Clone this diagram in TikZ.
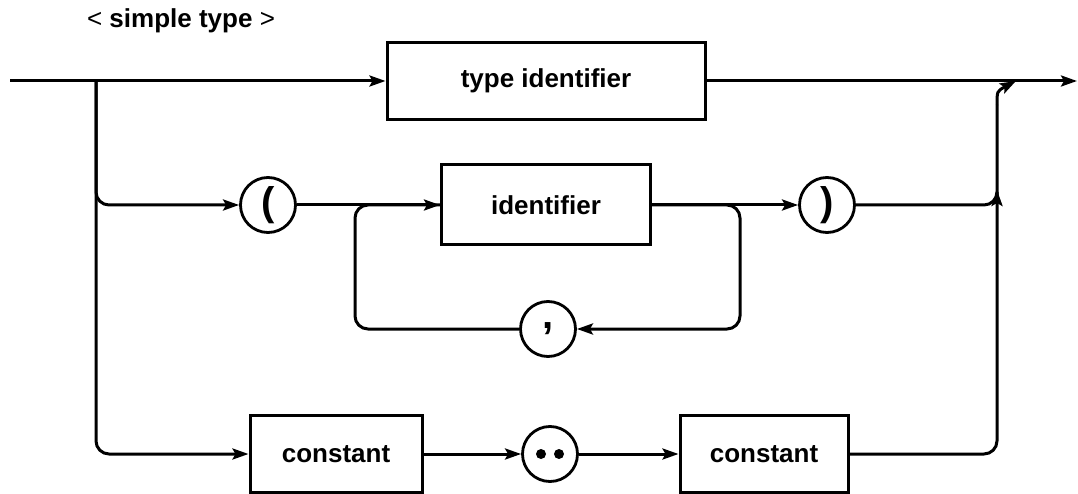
\documentclass[tikz,border=0pt]{standalone}
\usepackage{fontspec}
\setmainfont{Liberation Sans}
\usetikzlibrary{arrows.meta}
\begin{document}
\begin{tikzpicture}[x=1pt,y=-1pt,
  line width=3pt,
  lbl/.style={font=\fontsize{26}{30}\selectfont\bfseries},
  box/.style={draw, line width=3pt, minimum height=77pt, inner sep=0pt, lbl},
  term/.style={draw, circle, line width=2.8pt, minimum size=55pt, inner sep=0pt},
  paren/.style={font=\fontsize{40}{40}\selectfont\bfseries},
  arr/.style={-{Stealth[length=16pt,width=11pt,inset=3pt]}},
  conn/.style={rounded corners=13pt}
]
\useasboundingbox (0,0) rectangle (1078,494);
\node[lbl] (title) at (181,21) {\textmd{<} simple type \textmd{>}};
\node[box, minimum width=318pt] (tid) at (546,81) {type identifier};
\node[term, paren] (lp) at (268,205) {(};
\node[box, minimum width=209pt, minimum height=80pt] (idb) at (546,205) {identifier};
\node[term, paren] (rp) at (827,205) {)};
\node[term, paren] (cm) at (548,329) {\raisebox{-3pt}{,}};
\node[box, minimum width=172pt] (c1) at (336,454) {constant};
\node[term] (dd) at (550,454) {};
\node[box, minimum width=168pt] (c2) at (764,454) {constant};
\fill (dd.center) ++(-9,0) circle (5pt);
\fill (dd.center) ++(9,0) circle (5pt);
\coordinate (in) at (10,81);
\coordinate (out) at (1077,81);
\coordinate (split) at (96,81);
\coordinate (loopR) at (740,205);
\coordinate (loopL) at (355,205);
\coordinate (mergeA) at (997,190);
\coordinate (mergeTop) at (997,105);
\coordinate (mergeEnd) at (1016,81);
\draw[arr] (in) -- (tid.west);
\draw[arr] (tid.east) -- (out);
\draw[arr, conn] (split) |- (lp.west);
\draw[arr, conn] (split) |- (c1.west);
\draw[arr] (lp.east) -- (idb.west);
\draw[arr] (idb.east) -- (rp.west);
\draw[arr, conn] (idb.east) -- (loopR) |- (cm.east);
\draw[conn] (cm.west) -| (loopL) -- (idb.west);
\draw[arr, conn] (rp.east) -| (mergeA);
\draw[conn] (c2.east) -| (mergeTop);
\draw[arr] (mergeTop) .. controls (997,91) .. (mergeEnd);
\draw[arr] (c1.east) -- (dd.west);
\draw[arr] (dd.east) -- (c2.west);
\end{tikzpicture}
\end{document}
